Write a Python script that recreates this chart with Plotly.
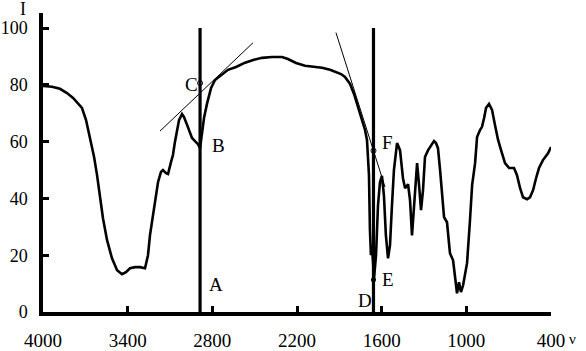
import plotly.graph_objects as go

# Spectrum (wavenumber, intensity)
wavenumber = [4000, 3936, 3880, 3830, 3787, 3745, 3724, 3695, 3667, 3638, 3617, 3596, 3575, 3546, 3511,
              3475, 3440, 3412, 3383, 3348, 3313, 3277, 3256, 3242, 3213, 3185, 3164, 3150, 3128, 3114,
              3093, 3079, 3065, 3050, 3036, 3015, 3001, 2979, 2958, 2944, 2923, 2902, 2887, 2873, 2859,
              2838, 2809, 2781, 2739, 2689, 2632, 2568, 2505, 2448, 2377, 2306, 2264, 2207, 2143, 2079,
              2023, 1966, 1924, 1888, 1860, 1824, 1796, 1768, 1739, 1718, 1704, 1690, 1683, 1676, 1669,
              1661, 1654, 1640, 1626, 1612, 1598, 1584, 1570, 1555, 1541, 1527, 1513, 1491, 1470, 1449,
              1434, 1413, 1399, 1385, 1371, 1349, 1335, 1321, 1307, 1293, 1271, 1250, 1229, 1215, 1201,
              1186, 1172, 1158, 1137, 1116, 1094, 1080, 1066, 1052, 1038, 1023, 1009, 995, 974, 959,
              938, 924, 903, 889, 874, 860, 839, 818, 797, 775, 754, 726, 697, 662, 641,
              619, 598, 570, 549, 527, 506, 485, 457, 421, 400]
intensity = [79.6, 79.3, 78.6, 77.1, 75.4, 73.3, 71.9, 67.6, 61.0, 54.6, 48.2, 40.5, 33.0, 25.3, 18.9,
             14.7, 13.3, 14.0, 15.4, 15.8, 15.8, 15.4, 20.0, 27.0, 36.9, 45.7, 49.3, 50.0, 48.9, 48.6,
             52.8, 55.3, 59.9, 63.4, 67.6, 69.7, 68.7, 65.9, 62.7, 61.3, 60.2, 59.1, 57.7, 64.1, 68.3,
             73.3, 78.9, 81.7, 83.5, 85.3, 86.3, 87.8, 88.8, 89.5, 89.8, 89.8, 89.1, 87.7, 86.7, 86.3,
             86.0, 85.3, 84.6, 83.8, 82.8, 80.3, 76.8, 72.2, 68.3, 64.1, 60.6, 48.2, 28.8, 20.0, 23.5,
             14.0, 11.9, 20.0, 37.6, 45.7, 47.9, 41.1, 27.0, 18.9, 23.5, 37.6, 50.0, 59.5, 57.0, 47.1,
             43.6, 45.0, 39.4, 27.0, 37.6, 52.4, 44.7, 35.9, 42.9, 54.6, 57.0, 58.8, 60.2, 59.5, 57.7,
             50.0, 42.9, 33.4, 31.6, 20.7, 18.2, 12.9, 6.6, 10.5, 7.0, 9.4, 12.9, 17.2, 32.4, 44.7,
             52.4, 61.6, 64.1, 65.2, 68.3, 71.9, 73.3, 71.2, 65.9, 60.6, 57.0, 52.4, 50.7, 50.7, 48.2,
             43.6, 40.4, 39.7, 40.4, 42.9, 47.1, 50.7, 53.5, 55.9, 58.1]

# Construction lines
line_a_x = [2887, 2887]
line_a_y = [0, 100]
line_d_x = [1658, 1658]
line_d_y = [0, 100]
tangent1_x = [3171, 2512]
tangent1_y = [63.7, 94.8]
tangent2_x = [1924, 1576]
tangent2_y = [98.4, 44.0]

# Marked points
open_pts_x = [2887, 1658]
open_pts_y = [80.6, 56.8]
filled_pt_x = [1658]
filled_pt_y = [11.4]

# Point labels
label_text = ["A", "B", "C", "D", "E", "F"]
label_x = [2774, 2756, 2951, 1718, 1555, 1562]
label_y = [9.8, 58.8, 80.2, 4.1, 11.5, 59.8]

x_ticks = [4000, 3400, 2800, 2200, 1600, 1000, 400]
y_ticks = [0, 20, 40, 60, 80, 100]

FONT = "Liberation Serif, Times New Roman, serif"

fig = go.Figure()
fig.add_trace(go.Scatter(x=wavenumber, y=intensity, mode="lines",
                         line=dict(color="black", width=2.6)))
for lx, ly in [(line_a_x, line_a_y), (line_d_x, line_d_y)]:
    fig.add_trace(go.Scatter(x=lx, y=ly, mode="lines", line=dict(color="black", width=3.2)))
for lx, ly in [(tangent1_x, tangent1_y), (tangent2_x, tangent2_y)]:
    fig.add_trace(go.Scatter(x=lx, y=ly, mode="lines", line=dict(color="black", width=1)))
fig.add_trace(go.Scatter(x=open_pts_x, y=open_pts_y, mode="markers",
                         marker=dict(symbol="circle-open", size=5, color="black", line=dict(width=1))))
fig.add_trace(go.Scatter(x=filled_pt_x, y=filled_pt_y, mode="markers",
                         marker=dict(symbol="circle", size=5, color="black")))

for t, x, y in zip(label_text, label_x, label_y):
    fig.add_annotation(x=x, y=y, text=t, showarrow=False, xanchor="center", yanchor="middle",
                       font=dict(family=FONT, size=19, color="black"))

fig.add_annotation(xref="paper", yref="paper", x=-0.039, y=1.012, text="I", showarrow=False,
                   xanchor="center", yanchor="middle",
                   font=dict(family=FONT, size=18, color="black"))
fig.add_annotation(xref="paper", yref="paper", x=1.043, y=-0.09, text="ν", showarrow=False,
                   xanchor="center", yanchor="middle",
                   font=dict(family=FONT, size=15, color="black"))

fig.update_layout(
    width=586, height=351,
    margin=dict(l=43, r=35, t=13, b=39),
    plot_bgcolor="white", paper_bgcolor="white",
    showlegend=False, hovermode=False,
    font=dict(family=FONT, size=19, color="black"),
)
fig.update_xaxes(range=[4000, 400], tickvals=x_ticks, ticktext=[str(v) for v in x_ticks],
                 automargin=False,
                 showgrid=False, zeroline=False, showline=True, linecolor="black", linewidth=3.5,
                 ticks="inside", ticklen=6, tickwidth=3, tickcolor="black",
                 ticklabelstandoff=8, tickfont=dict(family=FONT, size=19, color="black"))
fig.update_yaxes(range=[0, 105.3], tickvals=y_ticks, automargin=False,
                 showgrid=False, zeroline=False, showline=True, linecolor="black", linewidth=3.5,
                 ticks="inside", ticklen=6, tickwidth=3, tickcolor="black",
                 ticklabelstandoff=8, tickfont=dict(family=FONT, size=18, color="black"))

fig.write_html("out.html", config={"displayModeBar": False},
               post_script="document.body.style.margin='0px';")
